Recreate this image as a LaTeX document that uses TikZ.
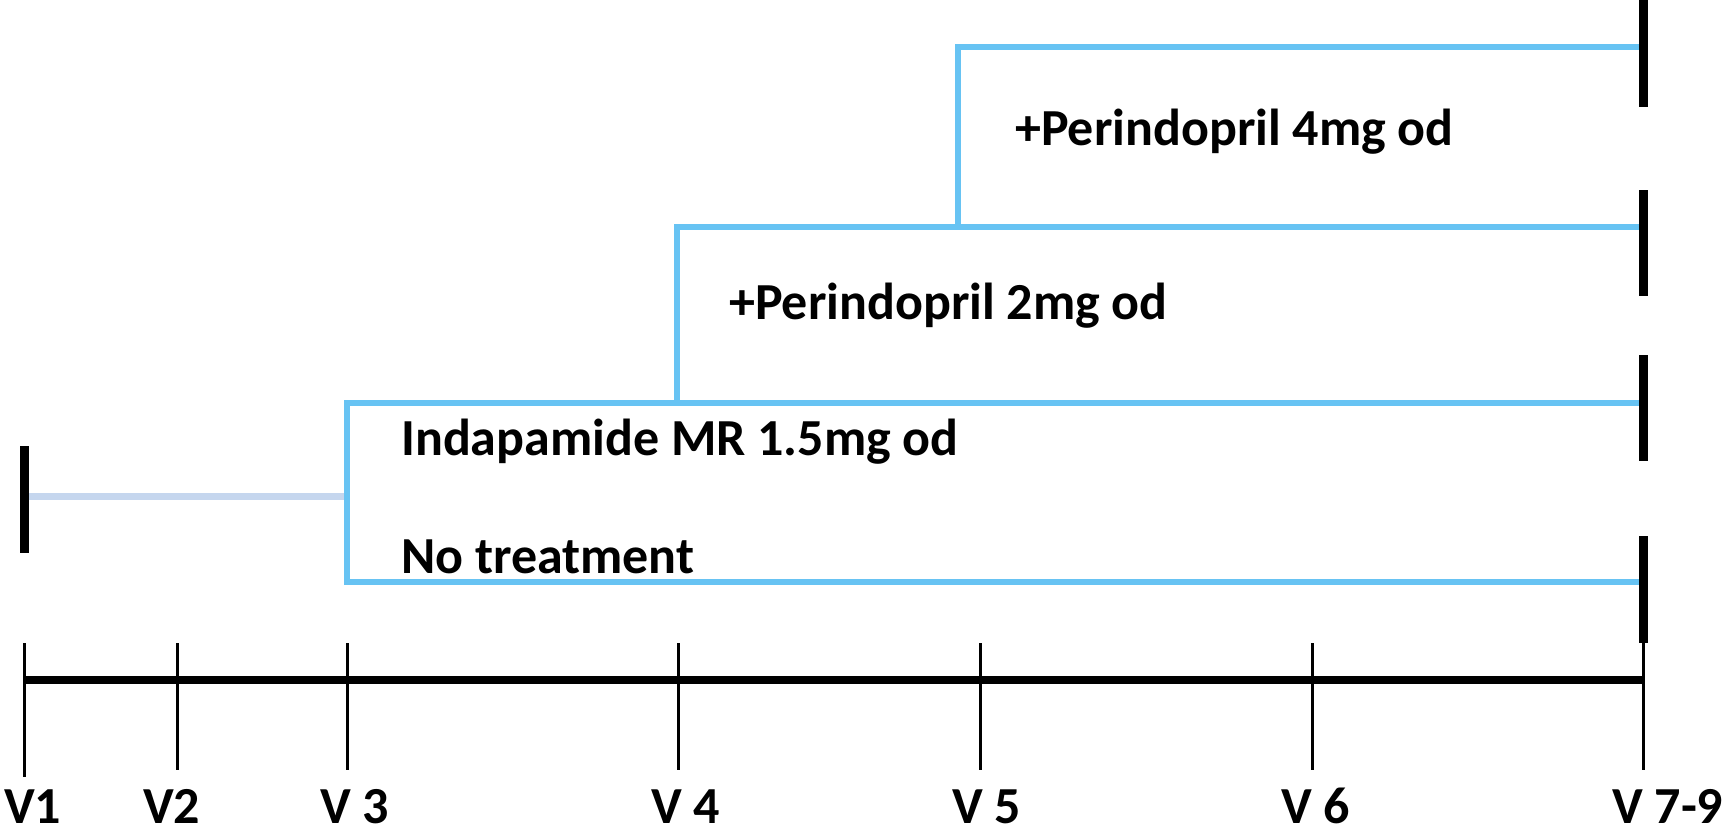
\documentclass[tikz,border=0pt]{standalone}
\usepackage{fontspec}
\setmainfont{Carlito}
\definecolor{armblue}{RGB}{103,195,243}
\definecolor{runin}{RGB}{197,214,238}
\tikzset{
  arm/.style={draw=armblue, line width=6pt, line join=miter},
  runinline/.style={draw=runin, line width=7pt},
  endbar/.style={draw=black, line width=9pt},
  axisline/.style={draw=black, line width=8pt},
  tickline/.style={draw=black, line width=3pt},
  lbl/.style={anchor=base west, inner sep=0pt, font=\fontsize{52pt}{60pt}\selectfont\bfseries},
  vlbl/.style={lbl, text depth=0pt},
}
\begin{document}
\begin{tikzpicture}[x=1pt,y=-1pt]
\useasboundingbox (0,0) rectangle (1729,838);
% timeline coordinates
\coordinate (a1) at (24,680);
\coordinate (a7) at (1643,680);
\foreach \n/\x/\b in {1/24/777,2/177/770,3/347/770,4/678/770,5/980/770,6/1312/770,7/1643/770}{
  \coordinate (t\n top) at (\x,643);
  \coordinate (t\n bot) at (\x,\b);
}
% arm coordinates
\coordinate (p4s) at (958,47);   \coordinate (p4e) at (1643,47);
\coordinate (p2s) at (677,227);  \coordinate (p2e) at (1643,227);
\coordinate (ins) at (347,403);  \coordinate (ine) at (1643,403);
\coordinate (nts) at (347,582);  \coordinate (nte) at (1643,582);
\coordinate (r0) at (24,496);    \coordinate (r1) at (347,496);
\coordinate (b0) at (24,446);    \coordinate (b1) at (24,553);

% run-in
\draw[runinline] (r0) -- (r1);
\draw[endbar] (b0) -- (b1);
% arms
\draw[arm] (p2e) -- (p2s) -- (p2s |- ins);
\draw[arm] (p4e) -- (p4s) -- (p4s |- p2s);
\draw[arm] (ine) -- (ins) -- (nts) -- (nte);
% dashed end bars
\foreach \s/\e in {0/107,190/296,355/461,536/643}{
  \draw[endbar] (1643,\s) -- (1643,\e);
}
% axis
\draw[axisline] (a1) -- (a7);
\foreach \n in {1,...,7}{ \draw[tickline] (t\n top) -- (t\n bot); }

% arm labels
\node[lbl] (l4) at (1015,145) {+Perindopril 4mg od};
\node[lbl] (l2) at (729,319) {+Perindopril 2mg od};
\node[lbl] (li) at (401,455) {Indapamide MR 1.5mg od};
\node[lbl] (ln) at (401,573) {No treatment};
% visit labels
\node[vlbl] (v1) at (4,823) {V1};
\node[vlbl] (v2) at (143,823) {V2};
\node[vlbl] (v3) at (320,823) {V 3};
\node[vlbl] (v4) at (651,823) {V 4};
\node[vlbl] (v5) at (952,823) {V 5};
\node[vlbl] (v6) at (1281,823) {V 6};
\node[vlbl] (v7) at (1612,823) {V 7-9};
\end{tikzpicture}
\end{document}
